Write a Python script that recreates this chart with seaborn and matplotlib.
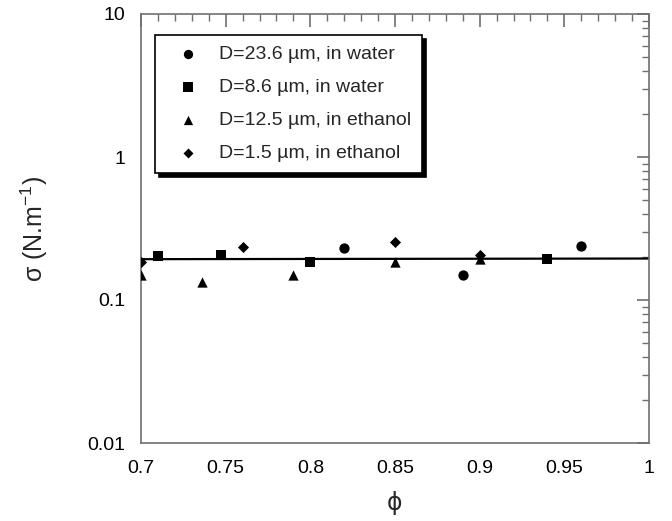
import numpy as np
import pandas as pd
import matplotlib
matplotlib.use("Agg")
import matplotlib.pyplot as plt
import seaborn as sns
from matplotlib.ticker import MultipleLocator, LogLocator, FixedLocator, FixedFormatter, NullFormatter

# ---- data ----
series_names = ["D=23.6 µm, in water", "D=8.6 µm, in water",
                "D=12.5 µm, in ethanol", "D=1.5 µm, in ethanol"]
phi_circle = [0.82, 0.89, 0.96]
sig_circle = [0.230, 0.150, 0.240]
phi_square = [0.71, 0.747, 0.80, 0.94]
sig_square = [0.203, 0.206, 0.184, 0.192]
phi_tri = [0.70, 0.736, 0.79, 0.85, 0.90]
sig_tri = [0.150, 0.134, 0.150, 0.185, 0.192]
phi_dia = [0.70, 0.76, 0.85, 0.90]
sig_dia = [0.184, 0.234, 0.256, 0.206]
fit_phi = [0.70, 1.00]
fit_sig = [0.193, 0.195]
x_ticks = [0.7, 0.75, 0.8, 0.85, 0.9, 0.95, 1.0]
x_labels = ["0.7", "0.75", "0.8", "0.85", "0.9", "0.95", "1"]
y_ticks = [0.01, 0.1, 1, 10]
y_labels = ["0.01", "0.1", "1", "10"]

rows = []
for name, xs, ys in zip(series_names,
                        [phi_circle, phi_square, phi_tri, phi_dia],
                        [sig_circle, sig_square, sig_tri, sig_dia]):
    for x, y in zip(xs, ys):
        rows.append({"phi": x, "sigma": y, "series": name})
df = pd.DataFrame(rows)
fit_df = pd.DataFrame({"phi": fit_phi, "sigma": fit_sig})

sns.set_theme(style="white")
plt.rcParams['font.family'] = ['Liberation Sans', 'DejaVu Sans']
plt.rcParams['mathtext.default'] = 'regular'

fig = plt.figure(figsize=(6.72, 5.21), dpi=100)
ax = fig.add_axes([141/672, 1-443/521, 508/672, 429/521])

sns.lineplot(data=fit_df, x="phi", y="sigma", ax=ax, color="black", lw=1.6, legend=False)

markers = {series_names[0]: "o", series_names[1]: "s",
           series_names[2]: "^", series_names[3]: "D"}
sizes_map = {series_names[0]: 55, series_names[1]: 60,
             series_names[2]: 55, series_names[3]: 32}
for name in series_names:
    sub = df[df.series == name]
    sns.scatterplot(data=sub, x="phi", y="sigma", ax=ax, marker=markers[name],
                    color="black", s=sizes_map[name], edgecolor="black",
                    linewidth=0, label=name, zorder=3)

ax.set_yscale("log")
ax.set_xlim(0.7, 1.0)
ax.set_ylim(0.01, 10)
ax.xaxis.set_major_locator(FixedLocator(x_ticks))
ax.xaxis.set_major_formatter(FixedFormatter(x_labels))
ax.xaxis.set_minor_locator(MultipleLocator(0.01))
ax.yaxis.set_major_locator(FixedLocator(y_ticks))
ax.yaxis.set_major_formatter(FixedFormatter(y_labels))
ax.yaxis.set_minor_locator(LogLocator(base=10, subs=np.arange(2, 10)))
ax.yaxis.set_minor_formatter(NullFormatter())

spine_c = "#707070"
for s in ax.spines.values():
    s.set_color(spine_c)
    s.set_linewidth(1.2)
ax.tick_params(which="both", direction="in", top=True, right=True,
               color=spine_c, labelsize=14, labelcolor="black")
ax.tick_params(which="major", length=9, width=1.2)
ax.tick_params(axis="x", which="major", pad=12)
ax.tick_params(axis="y", which="major", pad=11)
ax.tick_params(which="minor", length=5, width=1.0)

ax.set_xlabel("ϕ", fontsize=17, family=['DejaVu Sans'], labelpad=10)
ax.set_ylabel("σ (N.m$^{-1}$)", fontsize=18, labelpad=27)

leg = ax.legend(loc="upper left", bbox_to_anchor=(13.5/508, 1 - 20.5/429),
                frameon=True, fancybox=False,
                shadow={"color": "black", "alpha": 1.0, "ox": 3, "oy": -3},
                fontsize=14, handletextpad=0.41, borderpad=0.55,
                labelspacing=0.8, markerscale=0.9, handlelength=2.37,
                borderaxespad=0)
leg.get_frame().set_edgecolor("black")
leg.get_frame().set_linewidth(1.2)

fig.savefig("out.png", dpi=100)
